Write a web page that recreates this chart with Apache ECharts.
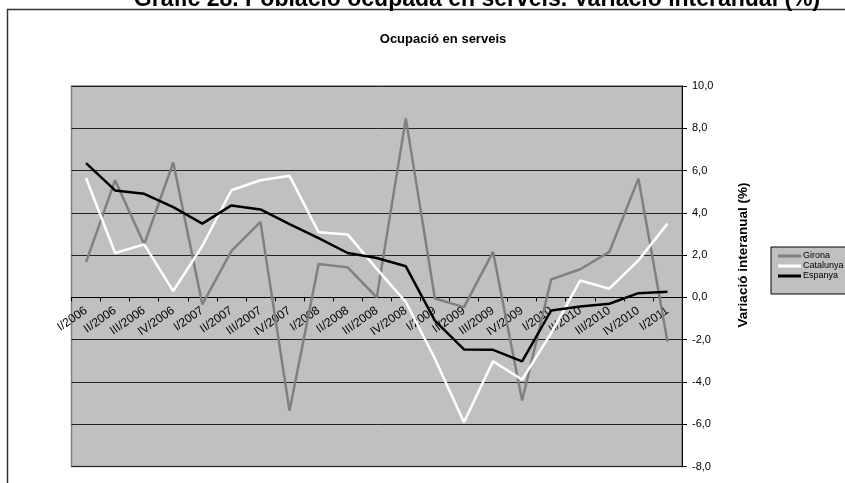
<!DOCTYPE html>
<html>
<head>
<meta charset="utf-8">
<script src="https://cdn.jsdelivr.net/npm/echarts@6/dist/echarts.min.js"></script>
<style>
    html, body { margin: 0; padding: 0; background: #fff; }
    #chart { width: 845px; height: 483px; }
</style>
</head>
<body>
<div id="chart"></div>
<script>
const quarters = ['I/2006', 'II/2006', 'III/2006', 'IV/2006', 'I/2007', 'II/2007', 'III/2007', 'IV/2007',
    'I/2008', 'II/2008', 'III/2008', 'IV/2008', 'I/2009', 'II/2009', 'III/2009', 'IV/2009',
    'I/2010', 'II/2010', 'III/2010', 'IV/2010', 'I/2011']

const girona = [1.67, 5.54, 2.51, 6.38, -0.33, 2.19, 3.57, -5.36, 1.58, 1.42, 0.0,
    8.47, -0.05, -0.46, 2.15, -4.88, 0.85, 1.33, 2.15, 5.62, -2.09]
const catalunya = [5.65, 2.1, 2.51, 0.3, 2.43, 5.07, 5.54, 5.75, 3.08, 2.98, 1.35,
    -0.22, -2.9, -5.91, -3.02, -3.89, -1.69, 0.8, 0.41, 1.75, 3.49]
const espanya = [6.35, 5.06, 4.9, 4.27, 3.49, 4.35, 4.16, 3.47, 2.8, 2.1, 1.86,
    1.47, -1.1, -2.46, -2.48, -3.03, -0.62, -0.43, -0.3, 0.2, 0.27]

const font = '"Liberation Sans", Arial, sans-serif'

// plot box in pixels
const gridTop = 86, gridBottom = 16.5
const plotH = 483 - gridTop - gridBottom
// x axis sits on the zero line, move it up from the bottom edge
const zeroOffset = -plotH * 8 / 18

var myChart = echarts.init(document.getElementById('chart'))
var option = {
    animation: false,
    textStyle: { fontFamily: font },
    title: [
        {
            text: 'Gràfic 28. Població ocupada en serveis. Variació interanual (%)',
            left: 472, textAlign: 'center', top: -17,
            textStyle: { fontSize: 23, fontWeight: 'bold', color: '#000', fontFamily: font }
        },
        {
            text: 'Ocupació en serveis',
            left: 438, textAlign: 'center', top: 28,
            textStyle: { fontSize: 13, fontWeight: 'bold', color: '#000', fontFamily: font }
        }
    ],
    graphic: [
        {
            type: 'rect', z: -10,
            shape: { x: 7.5, y: 9.5, width: 900, height: 600 },
            style: { fill: '#fff', stroke: '#333', lineWidth: 1.5 }
        },
        {
            type: 'text',
            x: 743, y: 255, rotation: Math.PI / 2,
            style: {
                text: 'Variació interanual (%)', align: 'center', verticalAlign: 'middle',
                fontSize: 13.5, fontWeight: 'bold', fill: '#000', fontFamily: font
            }
        }
    ],
    legend: {
        orient: 'vertical',
        left: 771, top: 247,
        padding: [4, 30, 13, 7],
        itemGap: 0,
        itemWidth: 23, itemHeight: 3,
        icon: 'rect',
        backgroundColor: '#c0c0c0',
        borderColor: '#000', borderWidth: 1,
        textStyle: { fontSize: 9, lineHeight: 10, color: '#000', padding: [0, 0, 0, -3] },
        data: ['Girona', 'Catalunya', 'Espanya']
    },
    grid: {
        left: 71.5, right: 163, top: gridTop, bottom: gridBottom,
        outerBoundsMode: 'none',
        containLabel: false,
        show: true,
        backgroundColor: '#c0c0c0',
        borderColor: '#808080', borderWidth: 1.5
    },
    xAxis: {
        type: 'category',
        data: quarters,
        boundaryGap: true,
        position: 'bottom',
        offset: zeroOffset,
        axisLine: { onZero: false, lineStyle: { color: '#000', width: 1 } },
        axisTick: { show: true, length: 4, interval: 0, lineStyle: { color: '#000' } },
        axisLabel: { interval: 0, rotate: 35, fontSize: 12, color: '#000', margin: 12 },
        splitLine: { show: false }
    },
    yAxis: {
        type: 'value',
        position: 'right',
        min: -8, max: 10, interval: 2,
        axisLine: { show: true, lineStyle: { color: '#000', width: 1 } },
        axisTick: { show: true, length: 5, lineStyle: { color: '#000' } },
        axisLabel: {
            fontSize: 11, color: '#000', margin: 10,
            formatter: (v) => v.toFixed(1).replace('.', ',')
        },
        splitLine: { show: true, lineStyle: { color: '#222', width: 1 } }
    },
    series: [
        {
            name: 'Girona', type: 'line', data: girona,
            symbol: 'none', color: '#808080',
            lineStyle: { color: '#808080', width: 2.5 }
        },
        {
            name: 'Catalunya', type: 'line', data: catalunya,
            symbol: 'none', color: '#ffffff',
            lineStyle: { color: '#ffffff', width: 2.5 }
        },
        {
            name: 'Espanya', type: 'line', data: espanya,
            symbol: 'none', color: '#000000',
            lineStyle: { color: '#000000', width: 2.5 }
        }
    ]
}

option && myChart.setOption(option)
</script>
</body>
</html>
